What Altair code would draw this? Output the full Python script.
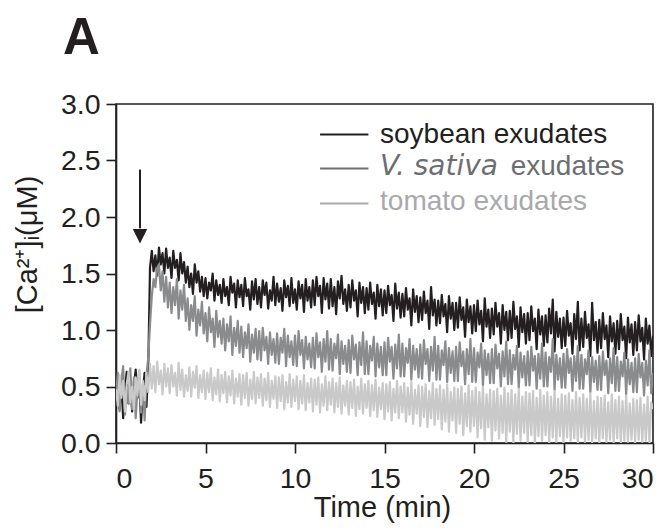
import altair as alt
import pandas as pd

FONT = "Liberation Sans"
INK = "#231f20"

TIME_STEP = 0.1  # min between samples

SOYBEAN = [
    0.45, 0.60, 0.30, 0.52, 0.22, 0.48, 0.63, 0.35, 0.55, 0.28,
    0.50, 0.65, 0.40, 0.58, 0.18, 0.47, 0.62, 0.32, 0.66, 1.55,
    1.70, 1.52, 1.66, 1.48, 1.73, 1.58, 1.68, 1.50, 1.72, 1.55,
    1.64, 1.46, 1.70, 1.55, 1.62, 1.44, 1.68, 1.50, 1.60, 1.42,
    1.56, 1.38, 1.50, 1.32, 1.58, 1.42, 1.52, 1.34, 1.47, 1.30,
    1.46, 1.28, 1.42, 1.35, 1.50, 1.26, 1.44, 1.31, 1.40, 1.24,
    1.45, 1.30, 1.38, 1.22, 1.47, 1.33, 1.41, 1.20, 1.44, 1.29,
    1.40, 1.21, 1.46, 1.30, 1.36, 1.18, 1.43, 1.27, 1.45, 1.23,
    1.38, 1.20, 1.44, 1.31, 1.42, 1.19, 1.35, 1.26, 1.47, 1.22,
    1.41, 1.25, 1.37, 1.17, 1.44, 1.29, 1.39, 1.21, 1.46, 1.24,
    1.36, 1.18, 1.43, 1.28, 1.40, 1.16, 1.45, 1.26, 1.38, 1.20,
    1.44, 1.22, 1.47, 1.30, 1.39, 1.15, 1.46, 1.27, 1.41, 1.19,
    1.45, 1.21, 1.38, 1.14, 1.43, 1.28, 1.48, 1.23, 1.36, 1.17,
    1.40, 1.20, 1.44, 1.26, 1.35, 1.12, 1.42, 1.24, 1.38, 1.15,
    1.37, 1.18, 1.42, 1.23, 1.33, 1.10, 1.40, 1.21, 1.36, 1.13,
    1.35, 1.15, 1.39, 1.22, 1.31, 1.08, 1.41, 1.19, 1.33, 1.11,
    1.32, 1.12, 1.37, 1.18, 1.28, 1.04, 1.36, 1.16, 1.30, 1.07,
    1.29, 1.09, 1.34, 1.15, 1.26, 1.01, 1.38, 1.13, 1.27, 1.04,
    1.26, 1.06, 1.31, 1.12, 1.23, 0.98, 1.30, 1.10, 1.24, 1.00,
    1.24, 1.02, 1.29, 1.09, 1.20, 0.94, 1.27, 1.07, 1.21, 0.97,
    1.22, 0.99, 1.26, 1.05, 1.17, 0.90, 1.28, 1.03, 1.18, 0.93,
    1.19, 0.96, 1.24, 1.03, 1.15, 0.88, 1.22, 1.00, 1.16, 0.91,
    1.17, 0.93, 1.25, 1.01, 1.12, 0.85, 1.20, 0.98, 1.14, 0.88,
    1.15, 0.91, 1.21, 0.99, 1.10, 0.83, 1.18, 0.96, 1.12, 0.86,
    1.13, 0.89, 1.19, 0.97, 1.27, 0.81, 1.16, 0.94, 1.10, 0.84,
    1.11, 0.86, 1.17, 0.95, 1.06, 0.79, 1.14, 0.92, 1.25, 0.82,
    1.10, 0.85, 1.16, 0.93, 1.05, 0.77, 1.24, 0.91, 1.07, 0.80,
    1.09, 0.84, 1.15, 0.92, 1.04, 0.76, 1.12, 0.90, 1.06, 0.79,
    1.08, 0.83, 1.14, 0.91, 1.03, 0.75, 1.11, 0.89, 1.05, 0.78,
    1.07, 0.82, 1.13, 0.90, 1.02, 0.74, 1.10, 0.88, 1.04, 0.77,
    0.95,
]

VSATIVA = [
    0.40, 0.62, 0.28, 0.55, 0.68, 0.25, 0.50, 0.35, 0.66, 0.30,
    0.58, 0.22, 0.47, 0.64, 0.27, 0.52, 0.20, 0.60, 0.75, 1.05,
    1.30, 1.45, 1.38, 1.55, 1.58, 1.35, 1.52, 1.25, 1.47, 1.20,
    1.42, 1.15, 1.38, 1.22, 1.45, 1.10, 1.35, 1.18, 1.40, 1.08,
    1.28, 1.00, 1.22, 1.08, 1.30, 0.95, 1.18, 1.04, 1.25, 0.97,
    1.15, 0.90, 1.20, 0.98, 1.10, 0.85, 1.17, 0.94, 1.08, 0.88,
    1.10, 0.82, 1.05, 0.90, 1.12, 0.78, 1.02, 0.86, 1.08, 0.80,
    1.03, 0.76, 0.98, 0.84, 1.05, 0.72, 0.96, 0.80, 1.01, 0.74,
    0.99, 0.73, 1.02, 0.82, 0.94, 0.70, 0.98, 0.78, 0.92, 0.71,
    0.97, 0.70, 0.93, 0.80, 1.01, 0.68, 0.95, 0.76, 0.90, 0.69,
    0.95, 0.68, 0.99, 0.78, 0.91, 0.66, 0.94, 0.74, 0.88, 0.67,
    0.93, 0.66, 0.97, 0.76, 0.89, 0.63, 0.92, 0.72, 0.99, 0.65,
    0.92, 0.64, 0.88, 0.75, 0.96, 0.61, 0.90, 0.70, 0.86, 0.63,
    0.91, 0.62, 0.95, 0.74, 0.87, 0.60, 0.89, 0.69, 0.98, 0.61,
    0.90, 0.61, 0.86, 0.73, 0.94, 0.59, 0.88, 0.67, 0.85, 0.60,
    0.89, 0.60, 0.93, 0.72, 0.85, 0.57, 0.87, 0.66, 0.96, 0.59,
    0.88, 0.59, 0.84, 0.71, 0.92, 0.56, 0.86, 0.65, 0.83, 0.58,
    0.87, 0.57, 0.91, 0.70, 0.83, 0.55, 0.85, 0.64, 0.94, 0.56,
    0.86, 0.56, 0.82, 0.69, 0.90, 0.54, 0.84, 0.62, 0.81, 0.55,
    0.85, 0.55, 0.89, 0.68, 0.81, 0.52, 0.83, 0.61, 0.92, 0.54,
    0.84, 0.54, 0.80, 0.67, 0.88, 0.51, 0.82, 0.60, 0.79, 0.53,
    0.83, 0.53, 0.87, 0.66, 0.79, 0.50, 0.81, 0.59, 0.90, 0.52,
    0.82, 0.52, 0.78, 0.65, 0.86, 0.49, 0.80, 0.58, 0.77, 0.51,
    0.81, 0.51, 0.85, 0.64, 0.77, 0.48, 0.79, 0.57, 0.88, 0.50,
    0.80, 0.50, 0.76, 0.63, 0.92, 0.47, 0.78, 0.56, 0.75, 0.49,
    0.79, 0.49, 0.83, 0.62, 0.75, 0.46, 0.77, 0.55, 0.86, 0.48,
    0.78, 0.48, 0.74, 0.61, 0.82, 0.45, 0.76, 0.54, 0.73, 0.47,
    0.77, 0.47, 0.81, 0.60, 0.73, 0.44, 0.75, 0.53, 0.84, 0.46,
    0.76, 0.46, 0.72, 0.59, 0.80, 0.43, 0.74, 0.52, 0.71, 0.45,
    0.75, 0.45, 0.79, 0.58, 0.71, 0.42, 0.73, 0.51, 0.82, 0.44,
    0.62,
]

TOMATO = [
    0.48, 0.33, 0.60, 0.40, 0.55, 0.28, 0.52, 0.63, 0.36, 0.50,
    0.30, 0.58, 0.42, 0.65, 0.34, 0.55, 0.38, 0.62, 0.45, 0.70,
    0.48, 0.68, 0.45, 0.72, 0.52, 0.64, 0.43, 0.70, 0.50, 0.66,
    0.44, 0.69, 0.50, 0.62, 0.42, 0.71, 0.47, 0.65, 0.41, 0.60,
    0.46, 0.67, 0.41, 0.63, 0.49, 0.68, 0.40, 0.60, 0.45, 0.64,
    0.39, 0.62, 0.45, 0.66, 0.38, 0.58, 0.43, 0.65, 0.37, 0.60,
    0.44, 0.63, 0.36, 0.59, 0.42, 0.64, 0.35, 0.57, 0.41, 0.61,
    0.34, 0.60, 0.40, 0.62, 0.33, 0.56, 0.39, 0.63, 0.35, 0.58,
    0.40, 0.61, 0.33, 0.57, 0.38, 0.62, 0.32, 0.55, 0.39, 0.59,
    0.31, 0.58, 0.37, 0.60, 0.30, 0.54, 0.36, 0.61, 0.32, 0.56,
    0.37, 0.59, 0.30, 0.55, 0.35, 0.60, 0.29, 0.53, 0.36, 0.57,
    0.28, 0.56, 0.34, 0.58, 0.27, 0.52, 0.33, 0.59, 0.29, 0.54,
    0.34, 0.57, 0.27, 0.53, 0.32, 0.58, 0.26, 0.51, 0.33, 0.55,
    0.25, 0.54, 0.31, 0.56, 0.24, 0.50, 0.30, 0.57, 0.26, 0.52,
    0.31, 0.55, 0.24, 0.51, 0.29, 0.56, 0.23, 0.49, 0.30, 0.53,
    0.21, 0.52, 0.28, 0.54, 0.20, 0.48, 0.27, 0.55, 0.22, 0.50,
    0.27, 0.53, 0.19, 0.49, 0.25, 0.54, 0.17, 0.47, 0.26, 0.51,
    0.15, 0.50, 0.23, 0.52, 0.14, 0.46, 0.22, 0.53, 0.16, 0.48,
    0.21, 0.51, 0.12, 0.47, 0.19, 0.52, 0.10, 0.45, 0.20, 0.49,
    0.09, 0.48, 0.17, 0.50, 0.07, 0.44, 0.15, 0.51, 0.10, 0.46,
    0.15, 0.49, 0.05, 0.45, 0.13, 0.50, 0.03, 0.43, 0.14, 0.47,
    0.02, 0.46, 0.11, 0.48, 0.04, 0.42, 0.09, 0.49, 0.01, 0.44,
    0.10, 0.47, 0.00, 0.43, 0.08, 0.48, 0.02, 0.41, 0.09, 0.45,
    0.01, 0.44, 0.07, 0.46, 0.00, 0.40, 0.06, 0.47, 0.02, 0.42,
    0.07, 0.45, 0.00, 0.41, 0.05, 0.46, 0.01, 0.39, 0.06, 0.43,
    0.00, 0.42, 0.05, 0.44, 0.02, 0.38, 0.04, 0.45, 0.00, 0.40,
    0.05, 0.43, 0.01, 0.39, 0.03, 0.44, 0.00, 0.37, 0.04, 0.41,
    0.00, 0.40, 0.04, 0.42, 0.01, 0.36, 0.03, 0.43, 0.00, 0.38,
    0.04, 0.41, 0.00, 0.37, 0.02, 0.42, 0.01, 0.35, 0.03, 0.39,
    0.00, 0.38, 0.03, 0.40, 0.01, 0.34, 0.02, 0.41, 0.00, 0.36,
    0.30,
]

X_TICKS = [0, 5, 10, 15, 20, 25, 30]
Y_TICKS = [0.0, 0.5, 1.0, 1.5, 2.0, 2.5, 3.0]

SERIES_NAMES = ["soybean exudates", "V. sativa exudates", "tomato exudates"]
LINE_COLORS = ["#231f20", "#8a8b8d", "#c9c9ca"]
LEGEND_COLORS = ["#231f20", "#6d6e71", "#a7a9ac"]

# legend placement (data units)
LEGEND_LINE_T = [11.4, 14.1]
LEGEND_LINE_V = [2.73, 2.43, 2.12]
LEGEND_TEXT_T = [14.75, 14.75, 14.75]
LEGEND_TEXT_V = [2.655, 2.37, 2.06]
SATIVA_SUFFIX_T = 22.05

# stimulus arrow (data units)
ARROW_T = 1.34
ARROW_FROM = 2.42
ARROW_TO = 1.90
ARROW_HEAD = 1.83

W, H = 537, 339
X_TITLE = "Time (min)"
Y_TITLE = "[Ca²⁺]ᵢ(μM)"

xscale = alt.Scale(domain=[0, 30], nice=False, zero=False)
yscale = alt.Scale(domain=[0, 3], nice=False)

x_axis = alt.Axis(values=X_TICKS, title=X_TITLE, labelPadding=11,
                  titleX=266, titleY=73, titleBaseline="alphabetic",
                  titleAlign="center")
y_axis = alt.Axis(values=Y_TICKS, format=".1f", title=Y_TITLE,
                  labelPadding=6, titleAngle=270, titleX=-89, titleY=140,
                  titleAlign="center", titleBaseline="middle")


def X(field="t"):
    return alt.X(f"{field}:Q", scale=xscale, axis=x_axis, title=X_TITLE)


def Y(field="v"):
    return alt.Y(f"{field}:Q", scale=yscale, axis=y_axis, title=Y_TITLE)


layers = []
for i, vals in enumerate([SOYBEAN, VSATIVA, TOMATO]):
    times = [round(k * TIME_STEP, 1) for k in range(len(vals))]
    df = pd.DataFrame({"t": times, "v": vals})
    layer = alt.Chart(df).mark_line(
        interpolate="linear", strokeWidth=2.2, strokeJoin="round",
        color=LINE_COLORS[i], clip=True
    ).encode(x=X(), y=Y())
    layers.append(layer)

# arrow
arrow_df = pd.DataFrame({"t": [ARROW_T], "v": [ARROW_FROM], "v2": [ARROW_TO]})
layers.append(
    alt.Chart(arrow_df).mark_rule(color=INK, strokeWidth=2).encode(
        x=X(), y=Y(), y2="v2:Q"
    )
)
head_df = pd.DataFrame({"t": [ARROW_T], "v": [ARROW_HEAD]})
layers.append(
    alt.Chart(head_df).mark_point(
        shape="M-1,-1L1,-1L0,1Z", size=210, filled=True, color=INK, opacity=1
    ).encode(x=X(), y=Y())
)

# legend lines
leg_line_df = pd.DataFrame({
    "t": [LEGEND_LINE_T[0]] * 3,
    "t2": [LEGEND_LINE_T[1]] * 3,
    "v": LEGEND_LINE_V,
    "c": LEGEND_COLORS,
})
layers.append(
    alt.Chart(leg_line_df).mark_rule(strokeWidth=2).encode(
        x=X(), x2="t2:Q", y=Y(), color=alt.Color("c:N", scale=None)
    )
)

# legend texts
leg_txt_df = pd.DataFrame({
    "t": [LEGEND_TEXT_T[0], SATIVA_SUFFIX_T, LEGEND_TEXT_T[2]],
    "v": [LEGEND_TEXT_V[0], LEGEND_TEXT_V[1], LEGEND_TEXT_V[2]],
    "label": ["soybean exudates", "exudates", "tomato exudates"],
    "c": [LEGEND_COLORS[0], LEGEND_COLORS[1], LEGEND_COLORS[2]],
})
layers.append(
    alt.Chart(leg_txt_df).mark_text(
        align="left", baseline="alphabetic", font=FONT, fontSize=28
    ).encode(x=X(), y=Y(), text="label:N", color=alt.Color("c:N", scale=None))
)
ital_df = pd.DataFrame({
    "t": [LEGEND_TEXT_T[1]], "v": [LEGEND_TEXT_V[1]],
    "label": ["V. sativa"], "c": [LEGEND_COLORS[1]],
})
layers.append(
    alt.Chart(ital_df).mark_text(
        align="left", baseline="alphabetic", font="DejaVu Sans", fontSize=28,
        fontStyle="oblique"
    ).encode(x=X(), y=Y(), text="label:N", color=alt.Color("c:N", scale=None))
)

# panel letter
panel_df = pd.DataFrame({"label": ["A"]})
layers.append(
    alt.Chart(panel_df).mark_text(
        align="left", baseline="alphabetic", font=FONT, fontSize=51,
        fontWeight="bold", color=INK
    ).encode(x=alt.value(-53), y=alt.value(-50), text="label:N")
)

chart = alt.layer(*layers).properties(
    width=W, height=H,
    autosize=alt.AutoSizeParams(type="none"),
    padding={"left": 108, "top": 96, "right": 3, "bottom": 80},
    background="white",
).configure_view(
    stroke=INK, strokeWidth=1.6
).configure_axis(
    grid=False,
    labelFont=FONT, labelFontSize=28.5, labelColor=INK,
    titleFont=FONT, titleFontSize=29, titleColor=INK, titleFontWeight="normal",
    domainColor=INK, domainWidth=1.6, tickColor=INK, tickWidth=1.6, tickSize=10,
)

chart.save("out.html", embed_options={"renderer": "svg", "actions": False})
